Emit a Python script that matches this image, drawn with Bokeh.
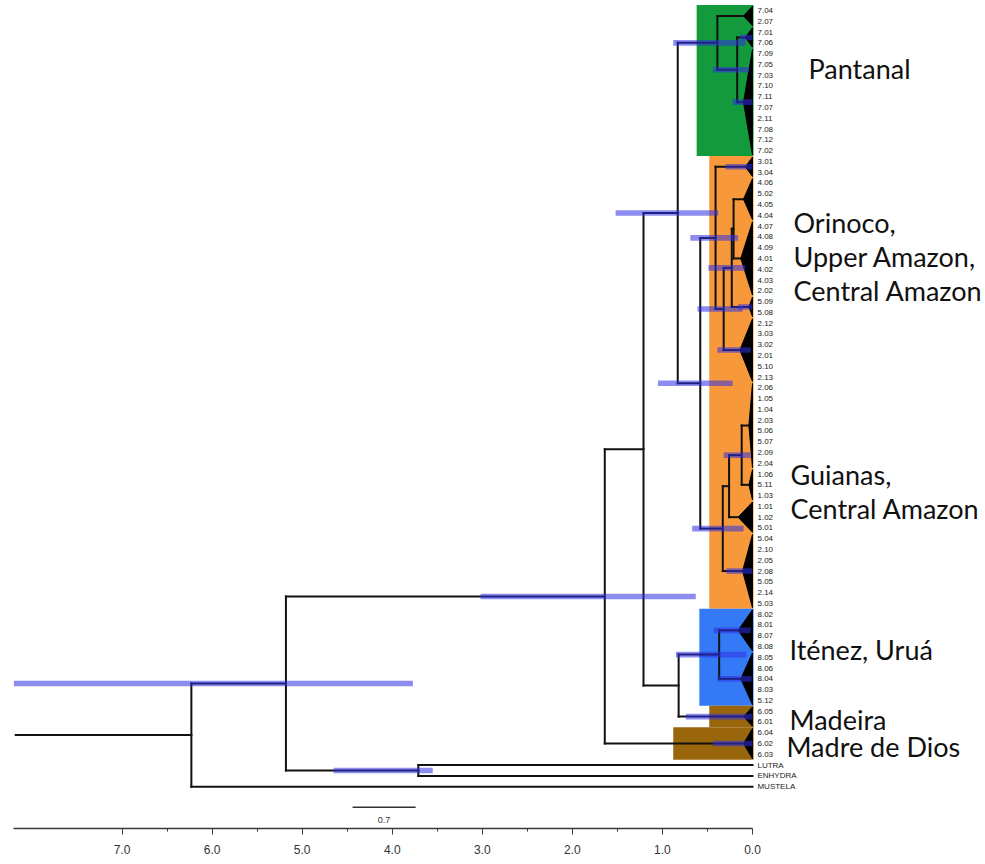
import math
from bokeh.plotting import figure
from bokeh.models import Range1d, FixedTicker, PrintfTickFormatter
from bokeh.embed import file_html
from bokeh.resources import INLINE
from bokeh.core.properties import value

# ---------------- data ----------------
tips = ["7.04", "2.07", "7.01", "7.06", "7.09", "7.05", "7.03", "7.10", "7.11", "7.07", "2.11", "7.08", "7.12", "7.02",
        "3.01", "3.04", "4.06", "5.02", "4.05", "4.04", "4.07", "4.08", "4.09", "4.01", "4.02", "4.03", "2.02", "5.09", "5.08",
        "2.12", "3.03", "3.02", "2.01", "5.10", "2.13", "2.06", "1.05", "1.04", "2.03", "5.06", "5.07", "2.09", "2.04", "1.06",
        "5.11", "1.03", "1.01", "1.02", "5.01", "5.04", "2.10", "2.05", "2.08", "5.05", "2.14", "5.03",
        "8.02", "8.01", "8.07", "8.08", "8.05", "8.06", "8.04", "8.03", "5.12",
        "6.05", "6.01", "6.04", "6.02", "6.03", "LUTRA", "ENHYDRA", "MUSTELA"]

NA = float("nan")
# collapsed clades (drawn as triangles)
clade_names = ["cP1", "cP2", "cP3", "cO1", "cO2", "cO3", "cO4", "cO5", "cG1", "cG2", "cG3", "cG4",
               "cI1", "cI2", "cM1", "cM2"]
clade_first = [0, 2, 4, 14, 16, 20, 27, 29, 35, 43, 46, 49, 56, 60, 65, 67]
clade_last = [1, 3, 13, 15, 19, 26, 28, 34, 42, 45, 48, 55, 59, 64, 66, 69]
clade_age = [0.10, 0.08, 0.10, 0.08, 0.10, 0.13, 0.04, 0.14, 0.04, 0.04, 0.16, 0.11,
             0.16, 0.13, 0.10, 0.10]
clade_hpd_lo = [NA, 0.00, 0.00, 0.00, NA, NA, 0.00, 0.02, NA, NA, NA, 0.00, 0.02, 0.01, 0.00, 0.00]
clade_hpd_hi = [NA, 0.14, 0.22, 0.30, NA, NA, 0.16, 0.39, NA, NA, NA, 0.29, 0.43, 0.39, 0.74, 0.44]

# internal nodes (children listed before parents)
node_names = ["Pc", "Pan", "O4", "O3", "O2", "O1", "L3", "L2", "L1", "Ora", "PO", "Ite", "IM", "PIM",
              "Pte", "LE", "Lut", "Root"]
node_left = ["cP2", "cP1", "cO2", "O4", "O3", "cO1", "cG1", "L3", "L2", "O1", "Pan", "cI1", "Ite", "PO",
             "PIM", "LUTRA", "Pte", "Lut"]
node_right = ["cP3", "Pc", "cO3", "cO4", "cO5", "O2", "cG2", "cG3", "cG4", "L1", "Ora", "cI2", "cM1", "IM",
              "cM2", "ENHYDRA", "LE", "MUSTELA"]
node_age = [0.17, 0.39, 0.21, 0.23, 0.32, 0.41, 0.12, 0.26, 0.33, 0.58, 0.83, 0.37, 0.82, 1.21,
            1.64, 3.71, 5.18, 6.23]
node_hpd_lo = [0.04, 0.08, NA, 0.08, 0.11, 0.16, 0.02, NA, 0.10, 0.22, 0.38, 0.07, NA, NA,
               0.63, 3.55, 3.77, NA]
node_hpd_hi = [0.44, 0.88, NA, 0.49, 0.61, 0.69, 0.32, NA, 0.67, 1.05, 1.52, 0.85, NA, NA,
               3.02, 4.65, 8.20, NA]
root_stem_from = 8.18

# coloured clade regions
region_first = [0, 14, 56, 65, 67]
region_last = [13, 55, 64, 66, 69]
region_left = [0.62, 0.48, 0.59, 0.48, 0.88]
region_colors = ["#129a3c", "#f7993a", "#3479f5", "#9a660c", "#9a660c"]

region_labels = ["Pantanal", "Orinoco,", "Upper Amazon,", "Central Amazon", "Guianas,",
                 "Central Amazon", "Iténez, Uruá", "Madeira", "Madre de Dios"]

axis_ticks = [0, 1, 2, 3, 4, 5, 6, 7]
axis_minor = [0.5, 1.5, 2.5, 3.5, 4.5, 5.5, 6.5]
scale_len = 0.7

# ---------------- geometry from data ----------------
pos = {}
for i, t in enumerate(tips):
    pos[t] = (0.0, float(i))
for n, f, l, a in zip(clade_names, clade_first, clade_last, clade_age):
    pos[n] = (a, (f + l) / 2.0)
for n, c1, c2, a in zip(node_names, node_left, node_right, node_age):
    pos[n] = (a, (pos[c1][1] + pos[c2][1]) / 2.0)

x0, y0, x1, y1 = [], [], [], []
for n, c1, c2, a in zip(node_names, node_left, node_right, node_age):
    ya, yb = pos[c1][1], pos[c2][1]
    x0.append(a); y0.append(ya); x1.append(a); y1.append(yb)
    for c in (c1, c2):
        x0.append(a); y0.append(pos[c][1]); x1.append(pos[c][0]); y1.append(pos[c][1])
ry = pos["Root"][1]
x0.append(root_stem_from); y0.append(ry); x1.append(pos["Root"][0]); y1.append(ry)

tri_xs, tri_ys = [], []
for f, l, a in zip(clade_first, clade_last, clade_age):
    tri_xs.append([a, 0.0, 0.0])
    tri_ys.append([(f + l) / 2.0, f - 0.4, l + 0.4])

bar_y, bar_lo, bar_hi = [], [], []
for n, lo, hi in list(zip(clade_names, clade_hpd_lo, clade_hpd_hi)) + list(zip(node_names, node_hpd_lo, node_hpd_hi)):
    if not (math.isnan(lo) or math.isnan(hi)):
        bar_y.append(pos[n][1]); bar_lo.append(lo); bar_hi.append(hi)

# ---------------- figure ----------------
PX = 90.07  # pixels per unit age
x_left = 752 / PX
x_right = -(985 - 752) / PX
ROW = 10.78
y_top = -10 / ROW
y_bot = (828 - 10) / ROW

p = figure(frame_width=985, frame_height=828, output_backend="svg", toolbar_location=None,
           x_range=Range1d(x_left, x_right), y_range=Range1d(y_bot, y_top),
           min_border=0, outline_line_color=None, x_axis_location="below",
           background_fill_color="white", border_fill_color="white")
p.yaxis.visible = False
p.xgrid.visible = False
p.ygrid.visible = False

ax = p.xaxis[0]
ax.ticker = FixedTicker(ticks=axis_ticks, minor_ticks=axis_minor)
ax.formatter = PrintfTickFormatter(format="%.1f")
ax.bounds = (0, root_stem_from + 0.02)
ax.axis_line_color = "#3a3a3a"
ax.axis_line_width = 1.5
ax.major_tick_line_color = "#3a3a3a"
ax.minor_tick_line_color = "#3a3a3a"
ax.major_tick_out = 6
ax.major_tick_in = 0
ax.minor_tick_out = 3
ax.minor_tick_in = 0
ax.major_label_text_font = "Liberation Sans"
ax.major_label_text_font_size = "12px"
ax.major_label_text_color = "#333333"
ax.major_label_standoff = 10

# coloured regions
p.quad(left=region_left, right=[-0.012] * len(region_left),
       top=[f - 0.5 for f in region_first], bottom=[l + 0.5 for l in region_last],
       fill_color=region_colors, line_color=None)

# branches
p.segment(x0=x0, y0=y0, x1=x1, y1=y1, line_color="#111111", line_width=2, line_cap="square")
# collapsed clades
p.patches(xs=tri_xs, ys=tri_ys, fill_color="black", line_color="black", line_width=1)
# HPD bars
p.hbar(y=bar_y, left=bar_lo, right=bar_hi, height=0.52, fill_color="#2f2fe6", fill_alpha=0.55,
       line_color=None)

# tip labels
p.text(x=[-0.055] * len(tips), y=list(range(len(tips))), text=tips, text_font=value("Liberation Sans"),
       text_font_size="8px", text_baseline="middle", text_align="left", text_color="#1a1a1a")

# region labels
lab_x = [-0.622, -0.455, -0.455, -0.455, -0.422, -0.422, -0.411, -0.411, -0.377]
lab_y = [5.38, 19.67, 22.82, 25.97, 43.04, 46.2, 59.28, 65.77, 68.27]
p.text(x=lab_x, y=lab_y, text=region_labels, text_font=value("Lato"), text_font_size="27px",
       text_baseline="middle", text_align="left", text_color="#111111")

# scale bar
sb_x = 4.44
sb_y = 73.9
p.segment(x0=[sb_x], y0=[sb_y], x1=[sb_x - scale_len], y1=[sb_y], line_color="#333333", line_width=1.5)
p.text(x=[sb_x - scale_len / 2], y=[sb_y + 1.2], text=["%.1f" % scale_len], text_font=value("Liberation Sans"),
       text_font_size="9px", text_baseline="middle", text_align="center", text_color="#333333")

open("out.html", "w").write(file_html(p, INLINE))
